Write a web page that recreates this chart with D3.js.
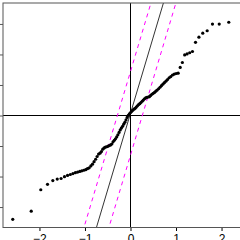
<!DOCTYPE html>
<html><head><meta charset="utf-8">
<script src="https://cdn.jsdelivr.net/npm/d3@7"></script>
<style>body{margin:0;background:#fff}svg{display:block}</style>
</head><body>
<script>
// Theoretical normal quantiles (x) and sample values (y)
const theoretical = [-2.5758,-2.1701,-1.9600,-1.8119,-1.6954,-1.5982,-1.5141,-1.4395,-1.3722,-1.3106,
-1.2536,-1.2004,-1.1503,-1.1031,-1.0581,-1.0152,-0.9741,-0.9346,-0.8965,-0.8596,
-0.8239,-0.7892,-0.7554,-0.7225,-0.6903,-0.6588,-0.6280,-0.5978,-0.5681,-0.5388,
-0.5101,-0.4817,-0.4538,-0.4261,-0.3989,-0.3719,-0.3451,-0.3186,-0.2924,-0.2663,
-0.2404,-0.2147,-0.1891,-0.1637,-0.1383,-0.1130,-0.0878,-0.0627,-0.0376,-0.0125,
0.0125,0.0376,0.0627,0.0878,0.1130,0.1383,0.1637,0.1891,0.2147,0.2404,
0.2663,0.2924,0.3186,0.3451,0.3719,0.3989,0.4261,0.4538,0.4817,0.5101,
0.5388,0.5681,0.5978,0.6280,0.6588,0.6903,0.7225,0.7554,0.7892,0.8239,
0.8596,0.8965,0.9346,0.9741,1.0152,1.0581,1.1031,1.1503,1.2004,1.2536,
1.3106,1.3722,1.4395,1.5141,1.5982,1.6954,1.8119,1.9600,2.1701,2.5758];
const sample = [-3.42,-3.15,-2.45,-2.27,-2.15,-2.10,-2.08,-2.02,-1.98,-1.95,
-1.92,-1.89,-1.87,-1.85,-1.83,-1.81,-1.79,-1.76,-1.73,-1.67,
-1.61,-1.53,-1.45,-1.36,-1.28,-1.25,-1.20,-1.12,-1.08,-1.05,
-1.04,-1.02,-1.00,-0.98,-0.95,-0.88,-0.83,-0.78,-0.72,-0.65,
-0.57,-0.49,-0.43,-0.37,-0.30,-0.24,-0.16,-0.08,-0.01,0.04,
0.08,0.12,0.16,0.19,0.22,0.26,0.30,0.34,0.37,0.41,
0.45,0.49,0.53,0.56,0.58,0.59,0.60,0.64,0.68,0.71,
0.74,0.78,0.82,0.86,0.91,0.96,1.01,1.06,1.11,1.16,
1.22,1.26,1.31,1.34,1.36,1.37,1.56,1.72,1.97,2.00,
2.04,2.08,2.38,2.55,2.68,2.76,2.98,2.98,3.04,3.40];
const xTicks = [-2,-1,0,1,2];
const yTicks = [-3,-2,-1,0,1,2,3];
const refSlope = 5.0, refIntercept = 0.0, bandOffset = 1.37;

const W = 240, H = 240;
const x = d3.scaleLinear().domain([-2.79, 2.79]).range([3, 257]);
const y = d3.scaleLinear().domain([-3.67, 3.67]).range([227, 3]);

const svg = d3.select("body").append("svg").attr("width", W).attr("height", H);
svg.append("defs").append("clipPath").attr("id","clip")
  .append("rect").attr("x",3).attr("y",3).attr("width",254).attr("height",224);

const plot = svg.append("g").attr("clip-path","url(#clip)");

// zero lines
plot.append("line").attr("x1",x(-3)).attr("x2",x(3)).attr("y1",y(0)+0.5).attr("y2",y(0)+0.5)
  .attr("stroke","#000").attr("stroke-width",1);
plot.append("line").attr("x1",x(0)+0.5).attr("x2",x(0)+0.5).attr("y1",y(-4)).attr("y2",y(4))
  .attr("stroke","#000").attr("stroke-width",1);

// reference line and bands
const xs = [-3, 3];
function seg(b, a){ return [[x(xs[0]), y(a + b*xs[0])],[x(xs[1]), y(a + b*xs[1])]]; }
const lineGen = d3.line();
plot.append("path").attr("d", lineGen(seg(refSlope, refIntercept)))
  .attr("stroke","#000").attr("stroke-width",0.8).attr("fill","none");
[bandOffset, -bandOffset].forEach(o => {
  plot.append("path").attr("d", lineGen(seg(refSlope, refIntercept + o)))
    .attr("stroke","#ff00ff").attr("stroke-width",1).attr("stroke-dasharray","4,4").attr("fill","none");
});

// points
plot.selectAll("circle").data(theoretical.map((t,i)=>[t, sample[i]])).join("circle")
  .attr("cx", d=>x(d[0])).attr("cy", d=>y(d[1])).attr("r",1.6).attr("fill","#000");

// box
svg.append("rect").attr("x",3).attr("y",3).attr("width",254).attr("height",224.5)
  .attr("fill","none").attr("stroke","#555").attr("stroke-width",1);

// axes
const ax = svg.append("g").attr("transform","translate(0.5,228)")
  .call(d3.axisBottom(x).tickValues(xTicks).tickSize(3).tickPadding(3).tickFormat(d3.format("d")));
ax.select(".domain").remove();
ax.selectAll("text").attr("font-family","Liberation Sans, Arial, sans-serif").attr("font-size",12).attr("fill","#000");
const ay = svg.append("g").attr("transform","translate(3,0.5)")
  .call(d3.axisLeft(y).tickValues(yTicks).tickSize(4).tickFormat(d3.format("d")));
ay.select(".domain").remove();
ay.selectAll("line").attr("stroke","#555");
ay.selectAll("text").attr("font-family","Liberation Sans, Arial, sans-serif").attr("font-size",12);
</script>
</body></html>
